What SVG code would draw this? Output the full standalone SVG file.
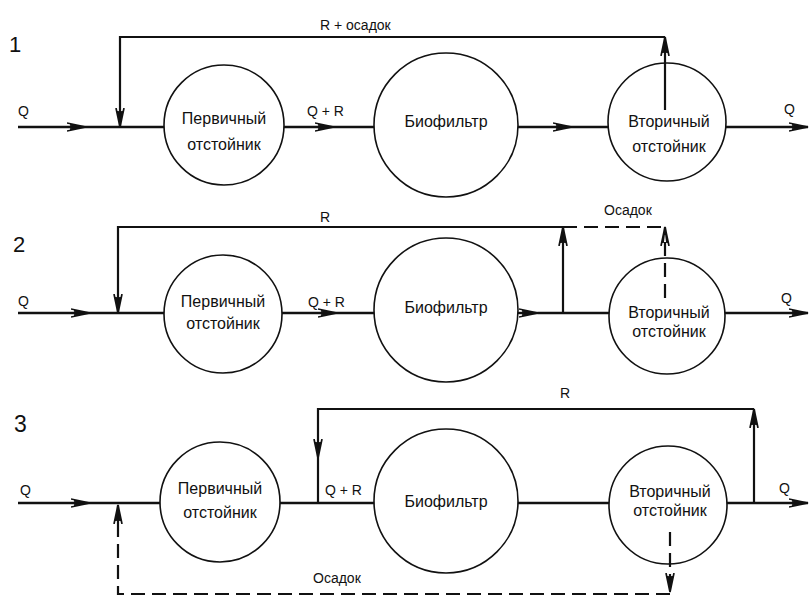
<svg xmlns="http://www.w3.org/2000/svg" width="810" height="598" viewBox="0 0 810 598">
  <style>
    .bg { fill: #ffffff; }
    .node { fill: none; stroke: #111; stroke-width: 1.6; }
    .flow { fill: none; stroke: #111; stroke-width: 2.4; stroke-linecap: butt; }
    .ret { fill: none; stroke: #111; stroke-width: 2.2; }
    .dash { fill: none; stroke: #111; stroke-width: 2.2; stroke-dasharray: 14 7; }
    .lbl { font-family: "Liberation Sans", Arial, sans-serif; font-size: 16px; fill: #111; text-anchor: middle; }
    .tag { font-family: "Liberation Sans", Arial, sans-serif; font-size: 14px; fill: #111; }
    .num { font-family: "Liberation Sans", Arial, sans-serif; font-size: 22px; fill: #111; }
  </style>
  <defs>
    <marker id="arr" markerUnits="userSpaceOnUse" viewBox="0 0 20 10" refX="19" refY="5" markerWidth="20" markerHeight="10" orient="auto">
      <path d="M0,1 L19,5 L0,9 M3,3 L19,5 L3,7" fill="none" stroke="#111" stroke-width="1.7"/>
    </marker>
  </defs>

  <rect class="bg" x="0" y="0" width="810" height="598"/>

  <!-- scheme numbers -->
  <text class="num" x="9" y="52">1</text>
  <text class="num" x="13" y="252">2</text>
  <text class="num" x="14" y="432" style="font-size:23px">3</text>

  <!-- ===== Scheme 1 ===== -->
  <g id="s1-primary">
    <circle class="node" cx="224" cy="125" r="60"/>
    <text class="lbl" x="224" y="124">Первичный</text>
    <text class="lbl" x="224" y="150">отстойник</text>
  </g>
  <g id="s1-biofilter">
    <circle class="node" cx="446" cy="125" r="72"/>
    <text class="lbl" x="446" y="127">Биофильтр</text>
  </g>
  <g id="s1-secondary">
    <circle class="node" cx="667" cy="122" r="59"/>
    <text class="lbl" x="669" y="127">Вторичный</text>
    <text class="lbl" x="669" y="152">отстойник</text>
  </g>
  <g id="s1-connectors">
    <path class="flow" d="M18,127 L86,127" marker-end="url(#arr)"/>
    <path class="flow" d="M86,127 L164,127"/>
    <path class="flow" d="M284,127 L334,127" marker-end="url(#arr)"/>
    <path class="flow" d="M334,127 L374,127"/>
    <path class="flow" d="M518,127 L572,127" marker-end="url(#arr)"/>
    <path class="flow" d="M572,127 L608,127"/>
    <path class="flow" d="M726,127 L808,127" marker-end="url(#arr)"/>
    <path class="ret" d="M665,110 L665,37" marker-end="url(#arr)"/>
    <path class="ret" d="M665,37 L120,37 L120,127" marker-end="url(#arr)"/>
    <text class="tag" x="18" y="116">Q</text>
    <text class="tag" x="307" y="116">Q + R</text>
    <text class="tag" x="784" y="114">Q</text>
    <text class="tag" x="320" y="30">R + осадок</text>
  </g>

  <!-- ===== Scheme 2 ===== -->
  <g id="s2-primary">
    <circle class="node" cx="223" cy="314" r="59"/>
    <text class="lbl" x="223" y="307">Первичный</text>
    <text class="lbl" x="223" y="329">отстойник</text>
  </g>
  <g id="s2-biofilter">
    <circle class="node" cx="446" cy="310" r="72"/>
    <text class="lbl" x="446" y="313">Биофильтр</text>
  </g>
  <g id="s2-secondary">
    <circle class="node" cx="667" cy="316" r="58"/>
    <text class="lbl" x="669" y="318">Вторичный</text>
    <text class="lbl" x="669" y="337">отстойник</text>
  </g>
  <g id="s2-connectors">
    <path class="flow" d="M18,313 L90,313" marker-end="url(#arr)"/>
    <path class="flow" d="M90,313 L164,313"/>
    <path class="flow" d="M282,313 L337,313" marker-end="url(#arr)"/>
    <path class="flow" d="M337,313 L374,313"/>
    <path class="flow" d="M518,313 L538,313" marker-end="url(#arr)"/>
    <path class="flow" d="M538,313 L609,313"/>
    <path class="flow" d="M725,313 L808,313" marker-end="url(#arr)"/>
    <path class="ret" d="M563,313 L563,227" marker-end="url(#arr)"/>
    <path class="ret" d="M563,227 L118,227 L118,313" marker-end="url(#arr)"/>
    <path class="dash" d="M563,227 L665,227"/>
    <path class="dash" d="M665,298 L665,227" marker-end="url(#arr)"/>
    <text class="tag" x="18" y="306">Q</text>
    <text class="tag" x="308" y="307">Q + R</text>
    <text class="tag" x="781" y="303">Q</text>
    <text class="tag" x="320" y="222">R</text>
    <text class="tag" x="604" y="215">Осадок</text>
  </g>

  <!-- ===== Scheme 3 ===== -->
  <g id="s3-primary">
    <circle class="node" cx="220" cy="502" r="60"/>
    <text class="lbl" x="220" y="494">Первичный</text>
    <text class="lbl" x="220" y="518">отстойник</text>
  </g>
  <g id="s3-biofilter">
    <circle class="node" cx="446" cy="501" r="72"/>
    <text class="lbl" x="446" y="507">Биофильтр</text>
  </g>
  <g id="s3-secondary">
    <circle class="node" cx="668" cy="505" r="59"/>
    <text class="lbl" x="670" y="497">Вторичный</text>
    <text class="lbl" x="670" y="516">отстойник</text>
  </g>
  <g id="s3-connectors">
    <path class="flow" d="M18,503 L90,503" marker-end="url(#arr)"/>
    <path class="flow" d="M90,503 L160,503"/>
    <path class="flow" d="M280,503 L374,503"/>
    <path class="flow" d="M518,503 L609,503"/>
    <path class="flow" d="M727,503 L808,503" marker-end="url(#arr)"/>
    <path class="ret" d="M754,503 L754,409" marker-end="url(#arr)"/>
    <path class="ret" d="M754,409 L318,409 L318,458" marker-end="url(#arr)"/>
    <path class="ret" d="M318,458 L318,503"/>
    <path class="dash" d="M670,532 L670,592" marker-end="url(#arr)"/>
    <path class="dash" d="M670,594 L118,594 L118,530"/>
    <path class="ret" d="M118,530 L118,505" marker-end="url(#arr)"/>
    <text class="tag" x="20" y="495">Q</text>
    <text class="tag" x="325" y="495">Q + R</text>
    <text class="tag" x="779" y="493">Q</text>
    <text class="tag" x="560" y="398">R</text>
    <text class="tag" x="313" y="583">Осадок</text>
  </g>
</svg>
